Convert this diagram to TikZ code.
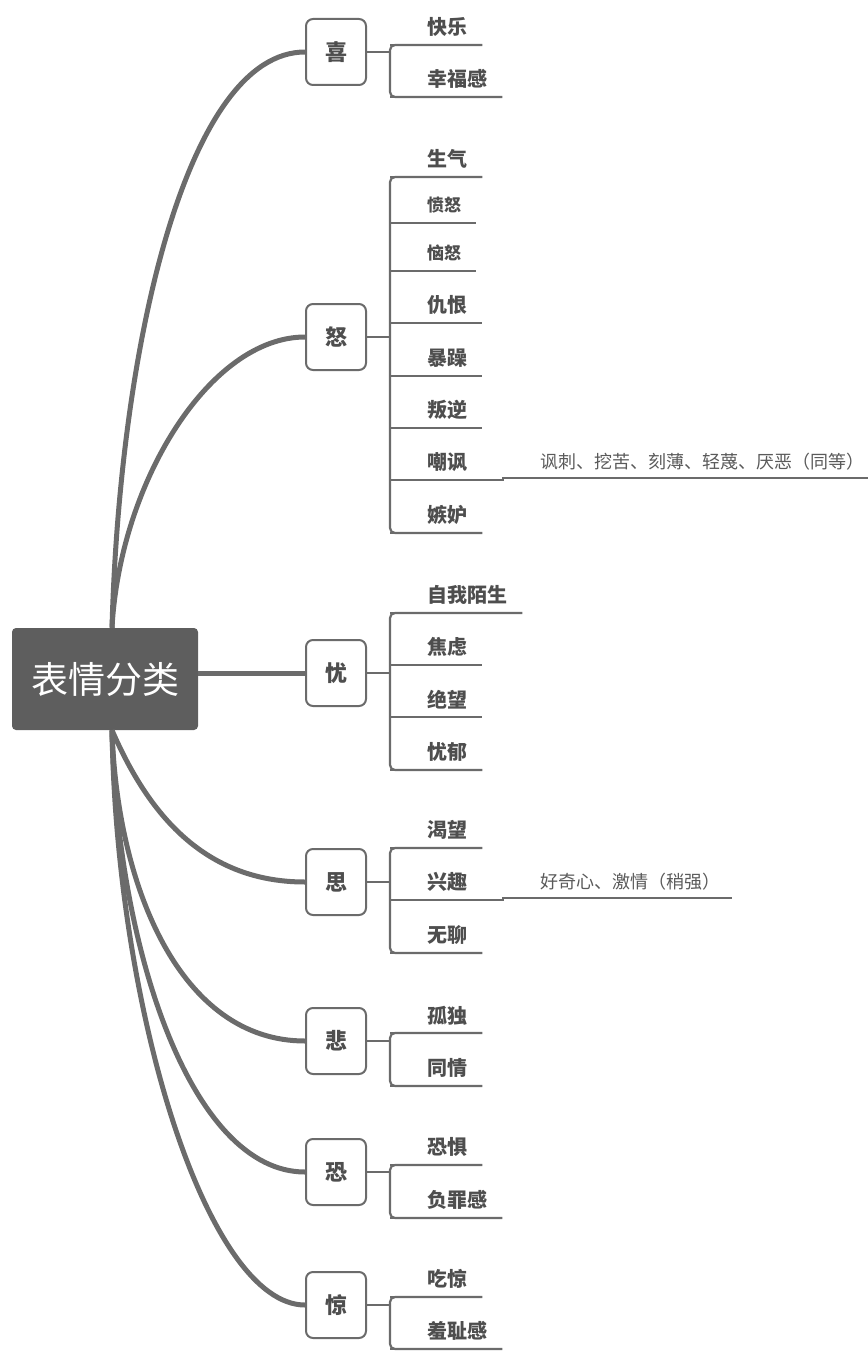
\documentclass[tikz,border=0pt]{standalone}
\usepackage{fontspec}
\setmainfont{Noto Sans CJK SC}
\definecolor{linegray}{HTML}{6B6B6B}
\definecolor{rootgray}{HTML}{5E5E5E}
\definecolor{textgray}{HTML}{4E4E4E}
\definecolor{notegray}{HTML}{5A5A5A}
\tikzset{
  root/.style={fill=rootgray, rounded corners=4pt, minimum width=186pt, minimum height=102pt,
    text=white, font=\fontsize{37}{37}\selectfont},
  cat/.style={draw=linegray, line width=2pt, rounded corners=7pt, fill=white,
    minimum width=60pt, minimum height=66pt, text=textgray, font=\bfseries\fontsize{22}{22}\selectfont},
  leaf/.style={anchor=south west, inner sep=0pt, minimum height=35pt, text=textgray,
    font=\bfseries\fontsize{20}{20}\selectfont,
    execute at begin node=\hspace*{37pt}, execute at end node=\hspace*{15pt}},
  small/.style={font=\bfseries\fontsize{17}{17}\selectfont},
  note/.style={anchor=south west, inner sep=0pt, minimum height=32pt, text=notegray,
    font=\fontsize{18}{18}\selectfont,
    execute at begin node=\hspace*{37pt}, execute at end node=\hspace*{12pt}},
  branch/.style={draw=linegray, line width=5pt},
  under/.style={draw=linegray, line width=2.2pt}
}
\begin{document}
\begin{tikzpicture}[x=1pt,y=-1pt]
  \useasboundingbox (0,0) rectangle (867,1362);
  \node[root] (root) at (105,679) {表情分类};
  \coordinate (top) at ([xshift=7pt]root.north);
  \coordinate (bot) at ([xshift=7pt]root.south);

  \node[cat] (xi)   at (336,52)   {喜};
  \node[cat] (nu)   at (336,337)  {怒};
  \node[cat] (you)  at (336,673)  {忧};
  \node[cat] (si)   at (336,882)  {思};
  \node[cat] (bei)  at (336,1041) {悲};
  \node[cat] (kong) at (336,1172) {恐};
  \node[cat] (jing) at (336,1305) {惊};

  \node[leaf] (xi1) at (390,45) {快乐};
  \node[leaf] (xi2) at (390,97) {幸福感};

  \node[leaf] (nu1) at (390,177) {生气};
  \node[leaf,small] (nu2) at (390,223) {愤怒};
  \node[leaf,small] (nu3) at (390,271) {恼怒};
  \node[leaf] (nu4) at (390,323) {仇恨};
  \node[leaf] (nu5) at (390,376) {暴躁};
  \node[leaf] (nu6) at (390,428) {叛逆};
  \node[leaf] (nu7) at (390,480) {嘲讽};
  \node[leaf] (nu8) at (390,533) {嫉妒};
  \node[note] (nu7n) at (503,478) {讽刺、挖苦、刻薄、轻蔑、厌恶（同等）};

  \node[leaf] (you1) at (390,613) {自我陌生};
  \node[leaf] (you2) at (390,665) {焦虑};
  \node[leaf] (you3) at (390,717) {绝望};
  \node[leaf] (you4) at (390,770) {忧郁};

  \node[leaf] (si1) at (390,848) {渴望};
  \node[leaf] (si2) at (390,900) {兴趣};
  \node[leaf] (si3) at (390,953) {无聊};
  \node[note] (si2n) at (503,898) {好奇心、激情（稍强）};

  \node[leaf] (bei1) at (390,1033) {孤独};
  \node[leaf] (bei2) at (390,1086) {同情};

  \node[leaf] (kong1) at (390,1165) {恐惧};
  \node[leaf] (kong2) at (390,1218) {负罪感};

  \node[leaf] (jing1) at (390,1297) {吃惊};
  \node[leaf] (jing2) at (390,1349) {羞耻感};

  % branches from the root
  \foreach \c/\a/\b/\e in {xi/8/-288/117, nu/8/-146/95}
    \draw[branch] (top) .. controls +(\a,\b) and +(-\e,0) .. (\c.west);
  \foreach \c/\a/\b/\e in {si/33/76/106, bei/5/156/125, kong/5/221/113, jing/5/288/96}
    \draw[branch] (bot) .. controls +(\a,\b) and +(-\e,0) .. (\c.west);
  \draw[branch] (root.east |- you.west) -- (you.west);

  % underlines and brackets
  \foreach \l in {xi1,xi2,nu1,nu2,nu3,nu4,nu5,nu6,nu7,nu8,you1,you2,you3,you4,
                  si1,si2,si3,bei1,bei2,kong1,kong2,jing1,jing2}
    \draw[under] (\l.south west) -- (\l.south east);
  \foreach \c/\f/\t in {xi/xi1/xi2, nu/nu1/nu8, you/you1/you4, si/si1/si3,
                        bei/bei1/bei2, kong/kong1/kong2, jing/jing1/jing2}{
    \draw[under, rounded corners=5pt] (\f.south east) -- (\f.south west) -- (\t.south west) -- (\t.south east);
    \draw[under] (\c.east) -- (\c.east -| \f.south west);
  }
  % side notes
  \foreach \l/\n in {nu7/nu7n, si2/si2n}
    \draw[under] (\l.south east) -- (\l.south east -| \n.south west) -- (\n.south west) -- (\n.south east);

\end{tikzpicture}
\end{document}
